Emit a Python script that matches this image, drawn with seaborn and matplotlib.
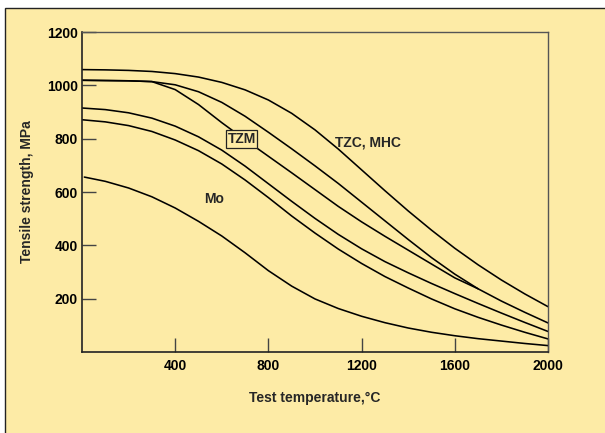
import numpy as np
import pandas as pd
import matplotlib
matplotlib.use("Agg")
import matplotlib.pyplot as plt
import matplotlib.patches as patches
import seaborn as sns

# curves (temperature in C, strength in MPa)
temps = [0, 100, 200, 300, 400, 500, 600, 700, 800, 900, 1000,
         1100, 1200, 1300, 1400, 1500, 1600, 1700, 1800, 1900, 2000]

tzc_y = [1059, 1058, 1056, 1052, 1044, 1031, 1011, 983, 945, 895, 833,
         761, 683, 605, 529, 457, 389, 327, 270, 218, 170]

upper_y = [1019, 1018, 1017, 1014, 1002, 976, 936, 884, 824, 762, 698,
           632, 562, 492, 422, 354, 292, 237, 191, 149, 109]

# TZM leaves the upper curve near 300 C and joins it again near 1700 C
tzm_x = [0, 100, 200, 300, 400, 500, 600, 700, 800, 900, 1000,
         1100, 1200, 1300, 1400, 1500, 1600, 1700]
tzm_y = [1019, 1018, 1017, 1014, 984, 928, 860, 796, 734, 672, 609,
         546, 488, 434, 382, 330, 278, 237]

mid_y = [915, 909, 897, 877, 847, 807, 757, 697, 631, 565, 501,
         441, 387, 339, 297, 257, 219, 182, 146, 111, 77]

low_y = [871, 863, 849, 827, 795, 755, 705, 645, 579, 510, 446,
         386, 332, 283, 240, 199, 162, 130, 101, 74, 49]

mo_x = [10, 100, 200, 300, 400, 500, 600, 700, 800, 900, 1000,
        1100, 1200, 1300, 1400, 1500, 1600, 1700, 1800, 1900, 2000]
mo_y = [656, 640, 615, 582, 540, 490, 435, 372, 305, 247, 199,
        163, 134, 110, 90, 74, 61, 50, 41, 32, 24]

x_ticks = [400, 800, 1200, 1600, 2000]
y_ticks = [200, 400, 600, 800, 1000, 1200]

frames = []
for name, xs, ys in [("TZC", temps, tzc_y), ("upper", temps, upper_y), ("TZM", tzm_x, tzm_y),
                     ("mid", temps, mid_y), ("low", temps, low_y), ("Mo", mo_x, mo_y)]:
    frames.append(pd.DataFrame({"temp": xs, "strength": ys, "curve": name}))
df = pd.concat(frames, ignore_index=True)

yellow = "#FDEBA6"
sns.set_style("ticks")
plt.rcParams["font.family"] = ["Liberation Sans", "DejaVu Sans"]
plt.rcParams["font.weight"] = "bold"
fs = 10

fig = plt.figure(figsize=(6.05, 4.33), dpi=100)
fig.patch.set_facecolor("white")
# yellow panel with a border on the top and left
fig.add_artist(patches.Rectangle((5 / 605, -0.05), 1.2, 425 / 433 + 0.05, transform=fig.transFigure,
                                 facecolor=yellow, edgecolor="#222222", lw=1.0, zorder=-10))

ax = fig.add_axes([82 / 605, 81 / 433, 466 / 605, 320 / 433])
ax.set_facecolor(yellow)

sns.lineplot(data=df, x="temp", y="strength", units="curve", estimator=None, sort=False,
             color="black", lw=1.15, ax=ax, legend=False)

ax.set_xlim(0, 2000)
ax.set_ylim(0, 1200)
ax.set_xticks(x_ticks)
ax.set_yticks(y_ticks)
ax.tick_params(axis="both", direction="in", length=10, width=1, color="#444444",
               labelsize=fs, labelcolor="black")
ax.tick_params(axis="x", pad=5)
ax.tick_params(axis="y", pad=3)
for lab in ax.get_xticklabels() + ax.get_yticklabels():
    lab.set_fontweight("bold")

for side in ["left", "bottom"]:
    ax.spines[side].set_color("#222222")
    ax.spines[side].set_linewidth(1.2)
for side in ["top", "right"]:
    ax.spines[side].set_color("#555555")
    ax.spines[side].set_linewidth(1.0)

ax.set_xlabel("Test temperature,\u00b0C", fontsize=fs, fontweight="bold", labelpad=13)
ax.set_ylabel("Tensile strength, MPa", fontsize=fs, fontweight="bold", labelpad=9)

ax.text(685, 799, "TZM", fontsize=fs, fontweight="bold", ha="center", va="center",
        bbox=dict(boxstyle="square,pad=0.12", facecolor=yellow, edgecolor="#222222", lw=0.9))
ax.text(1227, 787, "TZC, MHC", fontsize=fs, fontweight="bold", ha="center", va="center")
ax.text(566, 574, "Mo", fontsize=fs, fontweight="bold", ha="center", va="center")

fig.savefig("out.png", dpi=100, facecolor=fig.get_facecolor())
